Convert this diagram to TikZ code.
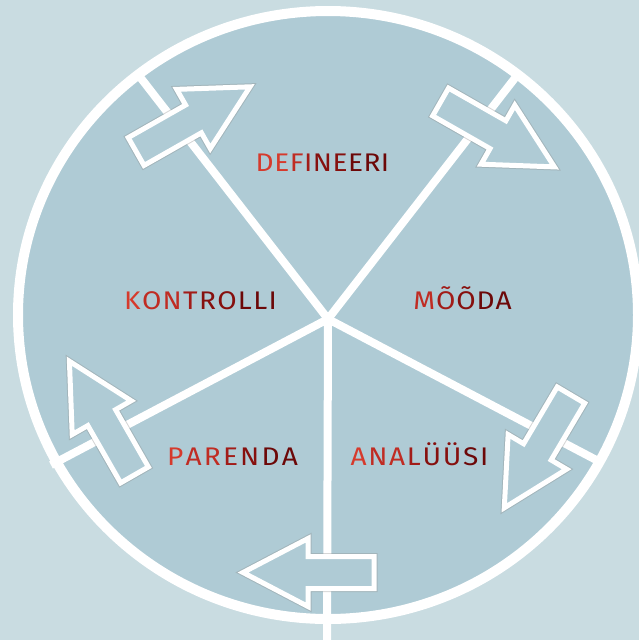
\documentclass[tikz,border=0pt]{standalone}
\usepackage{fontspec}
\setmainfont{Fira Sans}[FakeStretch=1.1]
\definecolor{bgc}{RGB}{201,220,225}
\definecolor{circc}{RGB}{175,203,213}
\definecolor{ra}{RGB}{214,58,44}
\definecolor{rb}{RGB}{192,44,35}
\definecolor{rc}{RGB}{162,28,24}
\definecolor{rd}{RGB}{134,16,14}
\definecolor{re}{RGB}{108,8,8}
\newlength\lsp
\newcommand\lf[2]{\textcolor{#1}{#2}}
\newcommand\lc[2]{\kern\lsp\textcolor{#1}{#2}}
\tikzset{
  spoke/.style={draw=white, line width=8pt},
  rim/.style={draw=white, line width=10pt},
  arrowline/.style={draw=white, line width=5pt, line join=miter, fill=circc,
    preaction={draw=black!45, opacity=0.35, line width=7pt, line join=miter}},
  lbl/.style={font=\fontsize{25.5}{25.5}\selectfont, inner sep=0pt, anchor=base},
  blockarrow/.pic={
    \path[arrowline] (3,-16) -- (69,-16) -- (69,-34) -- (134,0) -- (69,34) -- (69,16) -- (3,16) -- cycle;
  }
}
\begin{document}
\begin{tikzpicture}[x=1pt, y=-1pt]
\useasboundingbox (0,0) rectangle (639,640);
\clip (0,0) rectangle (639,640);
\fill[bgc] (0,0) rectangle (639,640);
% disc
\coordinate (o) at (328,315);
\fill[circc] (o) ellipse [x radius=310, y radius=304];
% spokes
\coordinate (c) at (328,319);
\coordinate (sul) at (140,77);
\coordinate (sur) at (515,78);
\coordinate (sll) at (51,465);
\coordinate (slr) at (602,463);
\coordinate (sd) at (327,640);
\draw[rim] (o) ellipse [x radius=310, y radius=304];
\draw[spoke] (c) -- (sul);
\draw[spoke] (c) -- (sur);
\draw[spoke] (c) -- (sll);
\draw[spoke] (c) -- (slr);
\draw[spoke] (c) -- (sd);
% arrows
\path (133.5,153) pic[rotate=29.6] {blockarrow};
\path (438,100.5) pic[rotate=-29.7] {blockarrow};
\path (136,477.5) pic[rotate=119.8] {blockarrow};
\path (572.5,392.5) pic[rotate=-120.6] {blockarrow};
\path (377,572.5) pic[rotate=180] {blockarrow};
% labels
\node[lbl] (tdef) at (322.5,171) {\setlength\lsp{0.5pt}\lf{ra}{D}\lc{ra}{E}\lc{rb}{F}\lc{rc}{I}\lc{rd}{N}\lc{rd}{E}\lc{re}{E}\lc{re}{R}\lc{re}{I}};
\node[lbl] (tkon) at (200.5,309) {\setlength\lsp{1.3pt}\lf{ra}{K}\lc{rb}{O}\lc{rb}{N}\lc{rc}{T}\lc{rd}{R}\lc{rd}{O}\lc{re}{L}\lc{re}{L}\lc{re}{I}};
\node[lbl] (tmoo) at (462.5,309) {\setlength\lsp{0.9pt}\lf{rb}{M}\lc{rc}{Õ}\lc{rd}{Õ}\lc{re}{D}\lc{re}{A}};
\node[lbl] (tpar) at (232.5,465) {\setlength\lsp{2.2pt}\lf{ra}{P}\lc{rb}{A}\lc{rb}{R}\lc{rc}{E}\lc{rd}{N}\lc{re}{D}\lc{re}{A}};
\node[lbl] (tana) at (419.5,465) {\setlength\lsp{1.7pt}\lf{ra}{A}\lc{rb}{N}\lc{rb}{A}\lc{rc}{L}\lc{rd}{Ü}\lc{rd}{Ü}\lc{re}{S}\lc{re}{I}};
\end{tikzpicture}
\end{document}
